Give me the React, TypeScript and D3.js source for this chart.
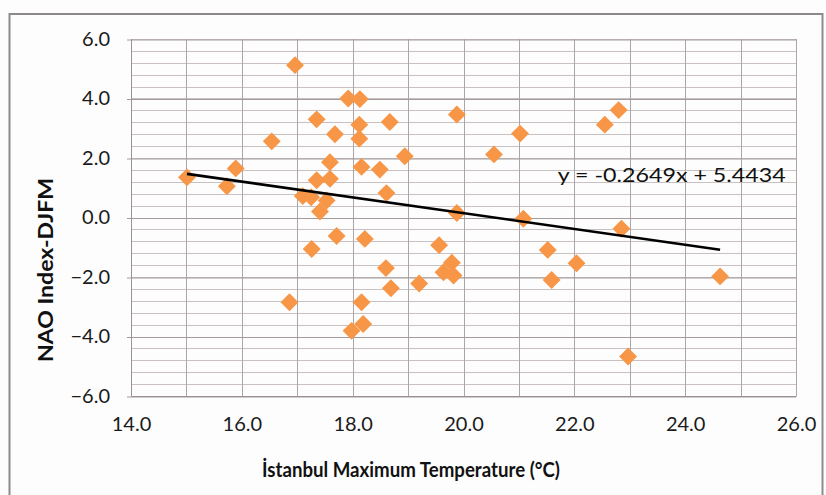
import React, { useRef, useEffect } from 'react';
import * as d3 from 'd3';

// Istanbul max temperature (°C) vs NAO index (DJFM)
const tempValues = [
  15.01, 15.73, 15.89, 16.54, 16.96, 16.86, 17.10, 17.25, 17.26, 17.35,
  17.35, 17.41, 17.53, 17.59, 17.59, 17.68, 17.71, 17.92, 18.13, 18.12,
  18.12, 18.16, 18.16, 18.19, 17.98, 18.22, 18.49, 18.61, 18.60, 18.69,
  18.67, 18.94, 19.20, 19.56, 19.64, 19.79, 19.82, 19.88, 19.88, 20.55,
  21.02, 21.08, 21.52, 21.59, 22.04, 22.55, 22.80, 22.85, 22.97, 24.63
];
const naoValues = [
  1.35, 1.05, 1.65, 2.56, 5.12, -2.85, 0.72, 0.68, -1.06, 3.30,
  1.25, 0.20, 0.57, 1.30, 1.86, 2.80, -0.62, 4.00, 3.98, 3.12,
  2.65, 1.70, -2.85, -3.58, -3.81, -0.72, 1.61, 0.82, -1.70, -2.38,
  3.21, 2.06, -2.22, -0.93, -1.84, -1.52, -1.95, 3.46, 0.15, 2.12,
  2.82, -0.04, -1.09, -2.10, -1.54, 3.12, 3.61, -0.38, -4.67, -1.98
];

const xTicks = [14, 16, 18, 20, 22, 24, 26];
const yTicks = [-6, -4, -2, 0, 2, 4, 6];

// trendline as printed on the chart
const slope = -0.2649;
const intercept = 5.4434;
const equationLabel = 'y = -0.2649x + 5.4434';

const xTitle = 'İstanbul Maximum Temperature (°C)';
const yTitle = 'NAO Index-DJFM';

const FONT = 'Lato, "Open Sans", sans-serif';

const App = () => {
  const ref = useRef<SVGSVGElement>(null);
  const width = 826;
  const height = 495;

  useEffect(() => {
    const svg = d3.select(ref.current);
    svg.selectAll('*').remove();

    const margin = { top: 39, right: 30, bottom: 99, left: 131 };
    const innerWidth = width - margin.left - margin.right;
    const innerHeight = height - margin.top - margin.bottom;

    svg.append('rect')
      .attr('width', width)
      .attr('height', height)
      .attr('fill', '#fdfdfd');

    // outer chart border (cut at bottom)
    svg.append('rect')
      .attr('x', 9.5)
      .attr('y', 14)
      .attr('width', 813)
      .attr('height', 500)
      .attr('fill', 'none')
      .attr('stroke', '#8e8a8a')
      .attr('stroke-width', 2);

    const x = d3.scaleLinear().domain([14, 26]).range([0, innerWidth]);
    const y = d3.scaleLinear().domain([-6, 6]).range([innerHeight, 0]);

    const chart = svg.append('g')
      .attr('transform', `translate(${margin.left}, ${margin.top})`);

    // minor horizontal gridlines every 0.4
    chart.append('g')
      .selectAll('line')
      .data(d3.range(-6, 6.001, 0.4))
      .join('line')
      .attr('x1', 0)
      .attr('x2', innerWidth)
      .attr('y1', d => Math.round(y(d)) + 0.5)
      .attr('y2', d => Math.round(y(d)) + 0.5)
      .attr('stroke', '#c9c1c1')
      .attr('stroke-width', 1);

    // vertical gridlines every 1.0
    chart.append('g')
      .selectAll('line')
      .data(d3.range(14, 26.001, 1))
      .join('line')
      .attr('x1', d => Math.round(x(d)) + 0.5)
      .attr('x2', d => Math.round(x(d)) + 0.5)
      .attr('y1', 0)
      .attr('y2', innerHeight)
      .attr('stroke', '#aea6a6')
      .attr('stroke-width', 1);

    // major horizontal gridlines + y axis
    const yAxis = chart.append('g')
      .call(d3.axisLeft(y).tickValues(yTicks).tickSize(-innerWidth - 4).tickPadding(17)
        .tickFormat(d3.format('.1f')))
      .attr('transform', 'translate(-4,0)');
    yAxis.select('.domain').remove();
    yAxis.selectAll('line')
      .attr('stroke', '#a39b9b')
      .attr('transform', 'translate(0,0.5)');
    yAxis.selectAll('text')
      .attr('fill', '#1a1a1a')
      .style('font-family', FONT)
      .style('font-size', '20px');

    // left axis line
    chart.append('line')
      .attr('x1', 0.5).attr('x2', 0.5)
      .attr('y1', 0).attr('y2', innerHeight)
      .attr('stroke', '#9a9292');

    // x axis labels
    const xAxis = chart.append('g')
      .attr('transform', `translate(0, ${innerHeight})`)
      .call(d3.axisBottom(x).tickValues(xTicks).tickSize(0).tickPadding(21)
        .tickFormat(d3.format('.1f')));
    xAxis.select('.domain').attr('stroke', '#9a9292');
    xAxis.selectAll('text')
      .attr('fill', '#1a1a1a')
      .style('font-family', FONT)
      .style('font-size', '20px');

    // points
    const points = tempValues.map((t, i) => ({ t, v: naoValues[i] }));
    const diamond = d3.symbol().type(d3.symbolSquare).size(160);
    chart.selectAll('path.pt')
      .data(points)
      .join('path')
      .attr('class', 'pt')
      .attr('d', diamond)
      .attr('transform', d => `translate(${x(d.t)}, ${y(d.v)}) rotate(45)`)
      .attr('fill', '#f79646');

    // trendline over the data range
    const [tMin, tMax] = d3.extent(tempValues) as [number, number];
    chart.append('line')
      .attr('x1', x(tMin))
      .attr('y1', y(slope * tMin + intercept))
      .attr('x2', x(tMax))
      .attr('y2', y(slope * tMax + intercept))
      .attr('stroke', '#000')
      .attr('stroke-width', 2.6);

    chart.append('text')
      .attr('x', x(21.7))
      .attr('y', y(1.2))
      .attr('fill', '#111')
      .attr('textLength', 228)
      .attr('lengthAdjust', 'spacingAndGlyphs')
      .style('font-family', FONT)
      .style('font-size', '20px')
      .text(equationLabel);

    // axis titles
    svg.append('text')
      .attr('x', 411)
      .attr('y', 477)
      .attr('text-anchor', 'middle')
      .attr('fill', '#111')
      .attr('textLength', 298)
      .attr('lengthAdjust', 'spacingAndGlyphs')
      .style('font-family', FONT)
      .style('font-weight', 'bold')
      .style('font-size', '20px')
      .text(xTitle);

    svg.append('text')
      .attr('transform', 'rotate(-90)')
      .attr('x', -270)
      .attr('y', 53)
      .attr('text-anchor', 'middle')
      .attr('fill', '#111')
      .attr('textLength', 184)
      .attr('lengthAdjust', 'spacingAndGlyphs')
      .style('font-family', FONT)
      .style('font-weight', 'bold')
      .style('font-size', '20px')
      .text(yTitle);
  }, []);

  return (
    <svg
      ref={ref}
      width={width}
      height={height}
      style={{ position: 'absolute', left: 0, top: 0 }}
    />
  );
};

export default App;
